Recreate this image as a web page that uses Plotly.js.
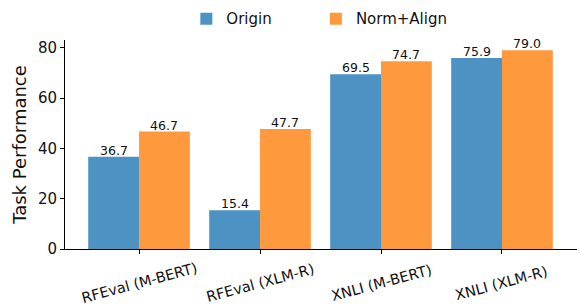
<!DOCTYPE html>
<html><head><meta charset="utf-8">
<script src="https://cdn.plot.ly/plotly-3.0.1.min.js"></script>
<style>html,body{margin:0;padding:0;background:#fff}</style>
</head><body><div id="chart" style="width:579px;height:307px"></div>
<script>
const categories = ["RFEval (M-BERT)", "RFEval (XLM-R)", "XNLI (M-BERT)", "XNLI (XLM-R)"];
const originValues = [36.7, 15.4, 69.5, 75.9];
const normAlignValues = [46.7, 47.7, 74.7, 79.0];
const seriesNames = ["Origin", "Norm+Align"];
const yTicks = [0, 20, 40, 60, 80];

const font = "DejaVu Sans, sans-serif";
const idx = categories.map((c, i) => i);
const halfBar = 0.21;

const traces = [
  {type: "bar", name: seriesNames[0], x: idx, y: originValues, marker: {color: "#4c92c3"}, hoverinfo: "skip", legend: "legend"},
  {type: "bar", name: seriesNames[1], x: idx, y: normAlignValues, marker: {color: "#ff993e"}, hoverinfo: "skip", legend: "legend2"}
];

const annotations = [];
originValues.forEach((v, i) => annotations.push({x: i - halfBar, y: v, xref: "x", yref: "y", text: v.toFixed(1), showarrow: false, yanchor: "bottom", yshift: -3, font: {family: font, size: 12.5, color: "#111"}}));
normAlignValues.forEach((v, i) => annotations.push({x: i + halfBar, y: v, xref: "x", yref: "y", text: v.toFixed(1), showarrow: false, yanchor: "bottom", yshift: -3, font: {family: font, size: 12.5, color: "#111"}}));
categories.forEach((c, i) => annotations.push({x: i, y: -0.165, xref: "x", yref: "paper", text: c, showarrow: false, textangle: -15, xanchor: "center", yanchor: "middle", font: {family: font, size: 14.5, color: "#111"}}));

const legendBase = {orientation: "h", xanchor: "left", y: 1.18, yanchor: "top", font: {family: font, size: 15, color: "#111"}, itemwidth: 30, bgcolor: "rgba(0,0,0,0)"};

const layout = {
  width: 579, height: 307,
  margin: {l: 65, r: 2, t: 36, b: 58},
  paper_bgcolor: "#fff", plot_bgcolor: "#fff",
  barmode: "group", bargap: 0.16, bargroupgap: 0,
  showlegend: true,
  legend: Object.assign({}, legendBase, {x: 0.237}),
  legend2: Object.assign({}, legendBase, {x: 0.49}),
  xaxis: {type: "linear", range: [-0.612, 3.62], tickvals: idx, showticklabels: false, ticks: "outside", ticklen: 4, tickcolor: "#000", showline: true, linecolor: "#000", linewidth: 1, showgrid: false, zeroline: false, fixedrange: true},
  yaxis: {range: [0, 83.1], tickvals: yTicks, ticks: "outside", ticklen: 4, tickcolor: "#000", showline: true, linecolor: "#000", linewidth: 1, showgrid: false, zeroline: false, tickfont: {family: font, size: 15, color: "#111"}, title: {text: "Task Performance", font: {family: font, size: 18, color: "#111"}, standoff: 6}},
  annotations: annotations
};

Plotly.newPlot("chart", traces, layout, {staticPlot: true, displayModeBar: false});
</script></body></html>
